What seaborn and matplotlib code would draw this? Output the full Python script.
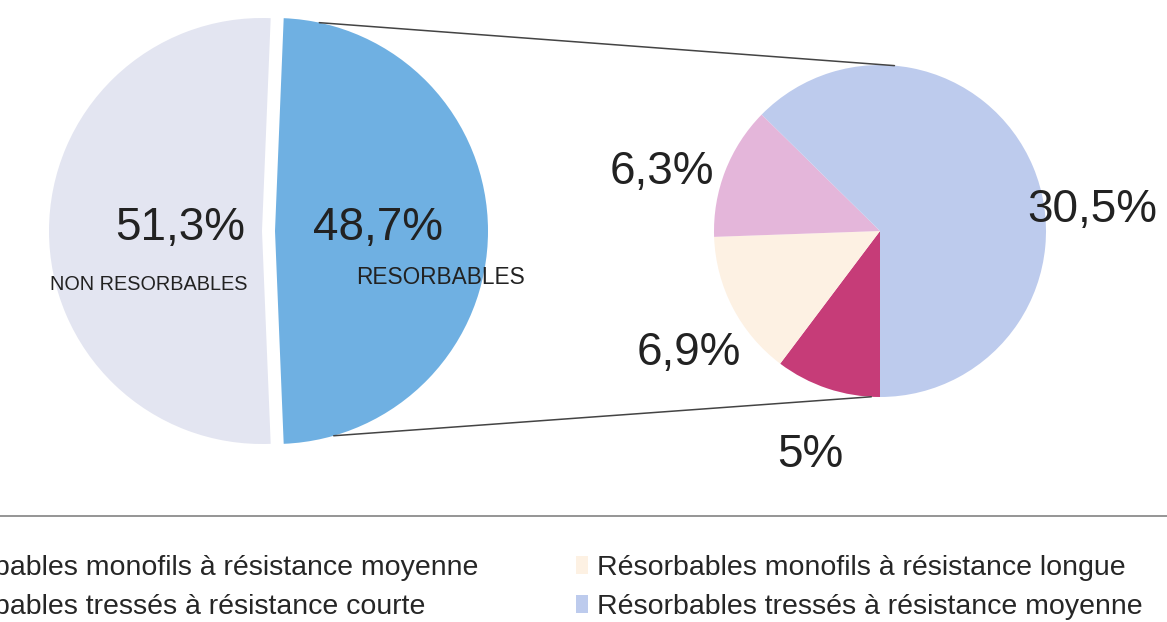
import numpy as np
import matplotlib.pyplot as plt
import seaborn as sns

W, H = 1167, 622

# main split
main_labels = ["NON RESORBABLES", "RESORBABLES"]
main_values = [51.3, 48.7]
main_colors = ["#e3e5f1", "#6fb0e2"]

# detail of the "résorbables" part
sub_labels = [
    "Résorbables monofils à résistance moyenne",
    "Résorbables monofils à résistance longue",
    "Résorbables tressés à résistance courte",
    "Résorbables tressés à résistance moyenne",
]
sub_values = [5.0, 6.9, 6.3, 30.5]
sub_colors = ["#c63c78", "#fdf1e3", "#e4b6da", "#bdcbed"]


def fmt_pct(v):
    return f"{v:g}".replace(".", ",") + "%"


sns.set_theme(style="white")
plt.rcParams["font.family"] = ["Liberation Sans", "DejaVu Sans"]

fig = plt.figure(figsize=(W / 100, H / 100), dpi=100)
ax = fig.add_axes([0, 0, 1, 1])

# left pie (pixel coordinates, y up)
left_c, left_r = (262, 391), 213
half = 360 * main_values[1] / 100 / 2
wedges_l, _ = ax.pie(main_values, colors=main_colors, startangle=half,
                     center=left_c, radius=left_r, explode=[0, 13],
                     wedgeprops=dict(linewidth=0), frame=True)

# right pie: breakdown of the résorbables
right_c, right_r = (880, 391), 166
wedges_r, _ = ax.pie(sub_values, colors=sub_colors, startangle=270,
                     counterclock=False, center=right_c, radius=right_r,
                     wedgeprops=dict(linewidth=0), frame=True)

# connector lines between the two pies
res = wedges_l[1]
for a_left, a_right in [(78, 85), (-74, -93)]:
    x1 = res.center[0] + res.r * np.cos(np.radians(a_left))
    y1 = res.center[1] + res.r * np.sin(np.radians(a_left))
    x2 = right_c[0] + right_r * np.cos(np.radians(a_right))
    y2 = right_c[1] + right_r * np.sin(np.radians(a_right))
    ax.plot([x1, x2], [y1, y2], color="#444444", lw=1.1)

# percentage labels
big = dict(fontsize=33, color="#222222", ha="center", va="center")
ax.text(180, 394, fmt_pct(main_values[0]), **big)
ax.text(378, 394, fmt_pct(main_values[1]), **big)
ax.text(149, 337, main_labels[0], fontsize=14.3, color="#222222", ha="center", va="center")
ax.text(441, 344, main_labels[1], fontsize=16.3, color="#222222", ha="center", va="center")

sub_pos = [(810, 167), (689, 269), (662, 450), (1092, 412)]
for v, (x, y) in zip(sub_values, sub_pos):
    ax.text(x, y, fmt_pct(v), **big)

# separator above the legend
ax.axhline(106, color="#8c8c8c", lw=1.3)

# legend, Excel-like row order (matplotlib fills by column)
order = [0, 2, 1, 3]
ax.legend([wedges_r[i] for i in order], [sub_labels[i] for i in order],
          ncol=2, loc="upper left", bbox_to_anchor=(-103, 67),
          bbox_transform=ax.transData, frameon=False, fontsize=20.5,
          handlelength=0.45, handleheight=0.6, handletextpad=0.3,
          columnspacing=3.4, borderpad=0, borderaxespad=0, labelspacing=0.47)

ax.set_xlim(0, W)
ax.set_ylim(0, H)
ax.set_aspect("equal")
ax.axis("off")

fig.savefig("out.png", dpi=100)
